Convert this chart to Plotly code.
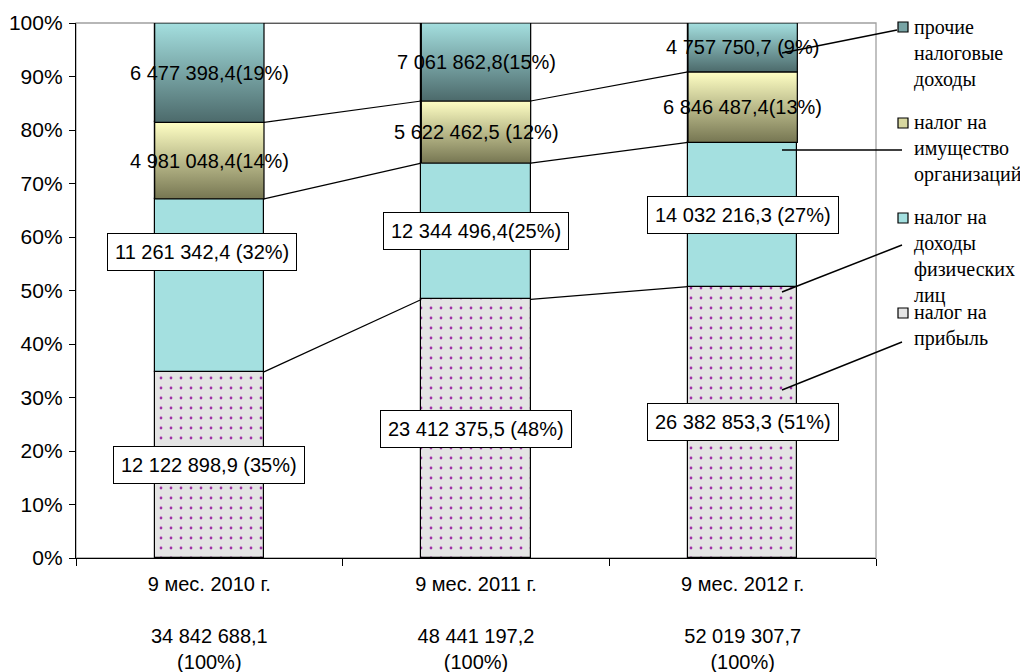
import numpy as np
import plotly.graph_objects as go

# ---------------- data ----------------
categories = ["9 мес. 2010 г.", "9 мес. 2011 г.", "9 мес. 2012 г."]

profit_tax = [12122898.9, 23412375.5, 26382853.3]      # налог на прибыль
income_tax = [11261342.4, 12344496.4, 14032216.3]      # налог на доходы физических лиц
property_tax = [4981048.4, 5622462.5, 6846487.4]       # налог на имущество организаций
other_tax = [6477398.4, 7061862.8, 4757750.7]          # прочие налоговые доходы

profit_labels = ["12 122 898,9 (35%)", "23 412 375,5 (48%)", "26 382 853,3 (51%)"]
income_labels = ["11 261 342,4 (32%)", "12 344 496,4(25%)", "14 032 216,3 (27%)"]
property_labels = ["4 981 048,4(14%)", "5 622 462,5 (12%)", "6 846 487,4(13%)"]
other_labels = ["6 477 398,4(19%)", "7 061 862,8(15%)", "4 757 750,7 (9%)"]

series_names = ["налог на прибыль", "налог на доходы физических лиц",
                "налог на имущество организаций", "прочие налоговые доходы"]
legend_texts = ["прочие<br>налоговые<br>доходы",
                "налог на<br>имущество<br>организаций",
                "налог на<br>доходы<br>физических<br>лиц",
                "налог на<br>прибыль"]
y_tick_values = [0, 0.1, 0.2, 0.3, 0.4, 0.5, 0.6, 0.7, 0.8, 0.9, 1.0]

# ---------------- derived ----------------
series = [np.array(profit_tax), np.array(income_tax), np.array(property_tax), np.array(other_tax)]
labels = [profit_labels, income_labels, property_labels, other_labels]
totals = sum(series)
shares = [s / totals for s in series]
tops = np.cumsum(shares, axis=0)
bottoms = tops - np.array(shares)


def fmt_total(v):
    return f"{v:,.1f}".replace(",", " ").replace(".", ",")


ticktext = [f"{c}<br>\u00a0<br>{fmt_total(t)}<br>(100%)" for c, t in zip(categories, totals)]
xpos = np.arange(len(categories))

# ---------------- styles ----------------
OFF = 8                      # page body margin of the html
W, H = 1028 - OFF, 672 - OFF
L, R, T, B = 68, 152, 15, 114
PW, PH = W - L - R, H - T - B
BW = 0.41
SANS = "Liberation Sans"
SERIF = "Liberation Serif"
LBL_SIZE = 20

TEAL = "#a4e0e0"
GRAY_BG = "#e4e4e4"
DOT = "#a030a8"
grad = {2: ("#767652", "#ffffc4"), 3: ("#4c6a6b", "#a4dfdf")}
bar_markers = [
    dict(color=GRAY_BG, pattern=dict(shape=".", fgcolor=DOT, bgcolor=GRAY_BG, size=10, solidity=0.06, fillmode="replace")),
    dict(color=TEAL),
    dict(color="#bbbb8a"),
    dict(color="#78a4a5"),
]


def px_x(p):
    # page pixel -> paper x
    return (p - OFF - L) / PW


def px_y(p):
    # page pixel -> paper y
    return (T + PH - (p - OFF)) / PH


fig = go.Figure()

# stacked bars
for k in range(4):
    m = dict(bar_markers[k])
    m["line"] = dict(color="black", width=1.2)
    fig.add_trace(go.Bar(x=xpos, y=shares[k], base=bottoms[k], width=BW, marker=m,
                         name=series_names[k], showlegend=False))

# gradient overlays for two series
for k in (2, 3):
    lo, hi = grad[k]
    for i in range(len(categories)):
        b, t = bottoms[k][i], tops[k][i]
        fig.add_trace(go.Scatter(
            x=[xpos[i] - BW / 2, xpos[i] + BW / 2, xpos[i] + BW / 2, xpos[i] - BW / 2, xpos[i] - BW / 2],
            y=[b, b, t, t, b], mode="lines", fill="toself",
            fillgradient=dict(type="vertical", colorscale=[[0, lo], [1, hi]]),
            line=dict(color="black", width=1.2), hoverinfo="skip", showlegend=False))

# series lines between bars
sx, sy = [], []
for k in range(4):
    for i in range(len(categories) - 1):
        sx += [xpos[i] + BW / 2, xpos[i + 1] - BW / 2, None]
        sy += [tops[k][i], tops[k][i + 1], None]
fig.add_trace(go.Scatter(x=sx, y=sy, mode="lines", line=dict(color="black", width=1.2),
                         hoverinfo="skip", showlegend=False))

# data labels
annotations = []
boxed = {0: True, 1: True, 2: False, 3: False}
label_shift = {(1, 0): (-7, 33)}
for k in range(4):
    for i in range(len(categories)):
        mid = (bottoms[k][i] + tops[k][i]) / 2
        xs, ys = label_shift.get((k, i), (0, 0))
        a = dict(x=xpos[i], y=mid, xref="x", yref="y", text=labels[k][i], showarrow=False,
                 font=dict(family=SANS, size=LBL_SIZE, color="black"), xshift=xs, yshift=ys)
        if boxed[k]:
            a.update(bgcolor="white", bordercolor="black", borderwidth=1, borderpad=7)
        annotations.append(a)

# legend (text + squares) drawn manually
legend_tops_px = [15, 110, 205, 300]
legend_sq_px = [27, 123, 218, 313]
legend_colors = ["#78a4a5", "#d8d8a0", TEAL, GRAY_BG]
shapes = [dict(type="rect", xref="paper", yref="paper", x0=0, x1=1, y0=0, y1=1,
               line=dict(color="#a0a0a0", width=1.3), layer="below")]
for j, txt in enumerate(legend_texts):
    annotations.append(dict(x=px_x(913), y=px_y(legend_tops_px[j]), xref="paper", yref="paper",
                            xanchor="left", yanchor="top", align="left", showarrow=False, text=txt,
                            borderpad=0, font=dict(family=SERIF, size=20, color="black")))
    cy = legend_sq_px[j]
    shapes.append(dict(type="rect", xref="paper", yref="paper", x0=px_x(898), x1=px_x(908),
                       y0=px_y(cy + 5), y1=px_y(cy - 5), fillcolor=legend_colors[j],
                       line=dict(color="black", width=1.2), layer="above"))

# leader lines from the last bar to the legend
leaders = [((782, 53), (897, 30)), ((782, 150), (902, 150)), ((782, 292), (902, 245)), ((782, 390), (902, 342))]
for (x0, y0), (x1, y1) in leaders:
    shapes.append(dict(type="line", xref="paper", yref="paper", x0=px_x(x0), y0=px_y(y0),
                       x1=px_x(x1), y1=px_y(y1), line=dict(color="black", width=1.5), layer="above"))

fig.update_layout(
    width=W, height=H, margin=dict(l=L, r=R, t=T, b=B, pad=0, autoexpand=False),
    paper_bgcolor="white", plot_bgcolor="white",
    barmode="overlay", bargap=0, showlegend=False,
    annotations=annotations, shapes=shapes,
    font=dict(family=SANS, size=LBL_SIZE, color="black"),
)
fig.update_xaxes(range=[-0.5, 2.5], tickvals=xpos, ticktext=ticktext, ticks="", automargin=False,
                 showline=True, linecolor="black", linewidth=1.3, showgrid=False, zeroline=False,
                 tickfont=dict(family=SANS, size=20, color="black"), ticklabelstandoff=8,
                 minor=dict(tickvals=[-0.5, 0.5, 1.5, 2.5], ticks="outside", ticklen=7,
                            tickcolor="black", tickwidth=1.3, showgrid=False))
fig.update_yaxes(range=[0, 1], tickvals=y_tick_values, tickformat=".0%", ticks="outside", ticklen=6,
                 tickcolor="black", tickwidth=1.3, showline=True, linecolor="black", linewidth=1.3,
                 showgrid=False, zeroline=False, automargin=False, ticklabelstandoff=2,
                 tickfont=dict(family=SANS, size=21, color="black"))

fig.write_html("out.html")
